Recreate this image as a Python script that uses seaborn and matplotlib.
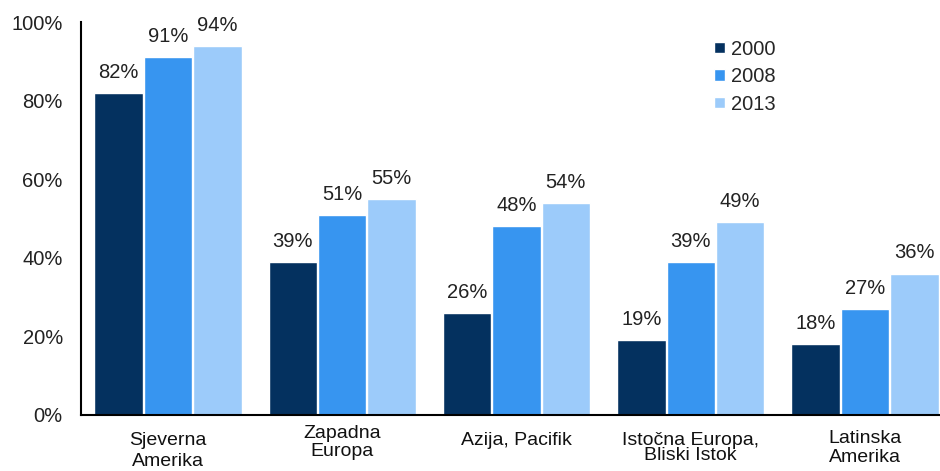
import numpy as np
import pandas as pd
import seaborn as sns
import matplotlib.pyplot as plt
from matplotlib.transforms import ScaledTranslation

# data
regions = ['Sjeverna\nAmerika', 'Zapadna\nEuropa', 'Azija, Pacifik',
           'Istočna Europa,\nBliski Istok', 'Latinska\nAmerika']
years = ['2000', '2008', '2013']
v2000 = [82, 39, 26, 19, 18]
v2008 = [91, 51, 48, 39, 27]
v2013 = [94, 55, 54, 49, 36]
colors = ['#04315f', '#3795f0', '#9ccbfa']

df = pd.DataFrame({
    'region': regions * 3,
    'year': [y for y in years for _ in regions],
    'value': v2000 + v2008 + v2013,
})

sns.set_style('white')
plt.rcParams['font.family'] = ['Liberation Sans', 'DejaVu Sans']
fs = 14.5

fig = plt.figure(figsize=(9.4, 4.71), dpi=100)
ax = fig.add_axes([0.086, 0.119, 0.914, 0.834])

sns.barplot(data=df, x='region', y='value', hue='year', palette=colors,
            width=0.85, gap=0.02, saturation=1, ax=ax, legend=True)

for cont in ax.containers:
    ax.bar_label(cont, labels=[f'{int(v)}%' for v in cont.datavalues],
                 padding=8, fontsize=fs, color='#222222')

ax.set_ylim(0, 100)
ax.set_xlim(-0.5, 4.43)
ax.set_yticks(range(0, 101, 20))
ax.set_yticklabels([f'{t}%' for t in range(0, 101, 20)], fontsize=fs, color='#222222')
ax.tick_params(axis='y', length=0, pad=13)
ax.tick_params(axis='x', length=0, pad=10)
ax.set_xticks(range(len(regions)))
ax.set_xticklabels(regions, fontsize=14, color='#111111')
# small vertical nudges / line spacing of the category labels, as in the original
nudge = [-2, 3, -2, -2, -1]
spacing = [1.35, 1.1, 1.0, 0.9, 1.1]
for lab, dy, ls in zip(ax.get_xticklabels(), nudge, spacing):
    lab.set_linespacing(ls)
    lab.set_transform(lab.get_transform() + ScaledTranslation(0, dy / 72, fig.dpi_scale_trans))
ax.set_xlabel('')
ax.set_ylabel('')

for s in ['top', 'right']:
    ax.spines[s].set_visible(False)
for s in ['left', 'bottom']:
    ax.spines[s].set_color('black')
    ax.spines[s].set_linewidth(1.5)

ax.legend(loc='upper left', bbox_to_anchor=(0.737, 0.955), frameon=False,
          fontsize=fs, handlelength=0.55, handleheight=0.5, borderpad=0,
          borderaxespad=0, handletextpad=0.3, labelspacing=0.42)

fig.savefig('out.png', dpi=100)
